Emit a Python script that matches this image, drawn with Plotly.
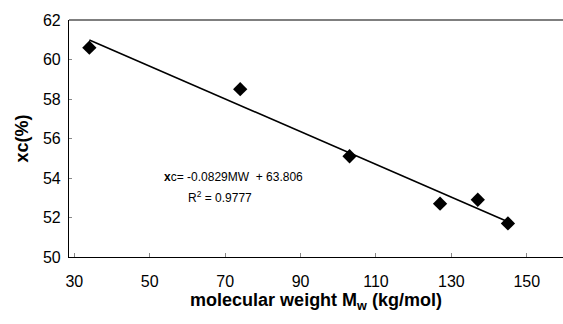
import plotly.graph_objects as go

mw = [34, 74, 103, 127, 137, 145]
xc = [60.6, 58.5, 55.1, 52.7, 52.9, 51.7]
slope = -0.0829
intercept = 63.806
fit_x = [min(mw), max(mw)]
fit_y = [slope * v + intercept for v in fit_x]
x_ticks = [30, 50, 70, 90, 110, 130, 150]
y_ticks = [50, 52, 54, 56, 58, 60, 62]

X0, X1 = 28.6, 159.6
Y0, Y1 = 50, 62

fig = go.Figure()
fig.add_trace(go.Scatter(x=fit_x, y=fit_y, mode="lines",
                         line=dict(color="black", width=1.6), showlegend=False))
fig.add_trace(go.Scatter(x=mw, y=xc, mode="markers",
                         marker=dict(symbol="diamond", size=11, color="black"),
                         showlegend=False))

font_family = "Liberation Sans, Arial, sans-serif"
fig.update_layout(
    width=563, height=324,
    margin=dict(l=69, r=0, t=20, b=67, autoexpand=False),
    plot_bgcolor="white", paper_bgcolor="white",
    font=dict(family=font_family, size=16, color="black"),
    xaxis=dict(range=[X0, X1], tickvals=x_ticks, showgrid=False, zeroline=False,
               automargin=False,
               showline=True, linecolor="black", linewidth=1.2,
               ticks="inside", ticklen=4, tickcolor="#888888",
               ticklabelstandoff=10,
               title=dict(text="<b>molecular weight M<sub>w</sub> (kg/mol)</b>",
                          font=dict(size=18), standoff=1)),
    yaxis=dict(range=[Y0, Y1], tickvals=y_ticks, showgrid=False, zeroline=False,
               automargin=False,
               showline=True, linecolor="black", linewidth=1.2,
               ticks="inside", ticklen=3, tickcolor="#888888",
               ticklabelstandoff=4,
               title=dict(text="<b>xc(%)</b>", font=dict(size=18), standoff=9)),
    shapes=[dict(type="line", xref="paper", yref="paper", x0=0, x1=1, y0=1, y1=1,
                 line=dict(color="black", width=1.2))],
)
px_per_x = (563 - 69) / (X1 - X0)
px_per_y = (257 - 20) / (Y1 - Y0)
def dx(px):
    return X0 + (px - 69) / px_per_x
def dy(py):
    return Y0 + (257 - py) / px_per_y
fig.add_annotation(x=dx(233), y=dy(177), xref="x", yref="y", showarrow=False,
                   text="<b>x</b>c= -0.0829MW  + 63.806", font=dict(size=12))
fig.add_annotation(x=dx(220), y=dy(197), xref="x", yref="y", showarrow=False,
                   text="R<sup>2</sup> = 0.9777", font=dict(size=12))

fig.write_html("out.html", config={"displayModeBar": False},
               post_script="document.body.style.margin='0';document.body.style.overflow='hidden';")
